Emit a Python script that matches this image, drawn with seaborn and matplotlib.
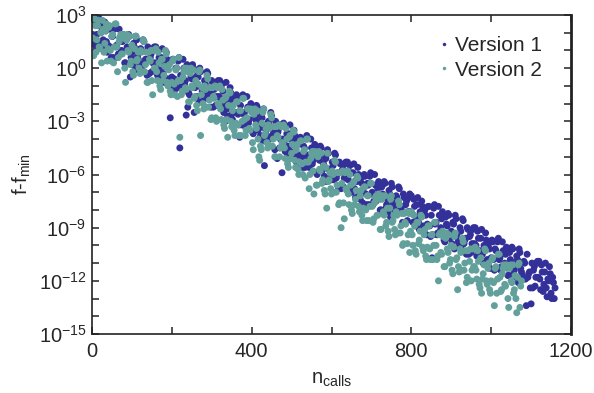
import numpy as np
import pandas as pd
import matplotlib
matplotlib.use("Agg")
import matplotlib.pyplot as plt
import seaborn as sns
from matplotlib.ticker import FixedLocator, NullFormatter

# ---------------- data (log10 of f - f_min) ----------------
# Version 1, first group of calls
v1_calls = list(range(0, 1164, 4))
v1_log = [
    2.8, 1.4, 2.5, 1.9, 2.9, 1.2, 2.3, 1.6, 2.6, 1.5,
    1.3, 2.2, 0.6, 1.8, 2.2, 1.2, 0.6, 2.2, 0.8, 1.5,
    1.7, 0.3, 1.2, 1.9, -0.5, 0.9, 1.4, -0.1, 1.6, 0.5,
    0.1, 1.0, 1.6, 0.3, 0.5, 1.2, -0.3, 0.8, 0.3, 1.2,
    1.2, -0.4, 0.6, -0.1, 1.1, -0.8, 0.1, 0.5, -0.9, -2.8,
    -0.5, 0.5, -1.2, 0.0, 0.4, -4.5, -1.1, 0.5, -0.9, -2.65,
    -2.2, -1.5, -0.5, 0.2, -2.5, -0.9, -0.4, -1.9, -0.2, -1.3,
    -1.7, -0.9, -0.2, -1.6, -1.3, -0.7, -2.2, -1.1, -1.6, -0.7,
    -0.7, -2.3, -1.3, -2.0, -0.8, -2.7, -1.9, -1.4, -2.9, -1.9,
    -2.5, -1.6, -3.2, -2.1, -1.6, -2.6, -3.3, -1.6, -3.1, -2.3,
    -2.2, -3.7, -2.7, -2.1, -3.5, -3.1, -2.7, -4.1, -5.5, -3.5,
    -4.0, -3.2, -2.5, -3.9, -3.6, -3.0, -5.1, -3.4, -4.0, -5.9,
    -3.1, -4.7, -3.7, -4.4, -3.2, -5.1, -4.3, -3.8, -5.3, -4.3,
    -4.9, -4.0, -5.6, -4.5, -4.0, -5.0, -5.6, -4.0, -5.4, -4.7,
    -4.5, -6.0, -5.0, -4.4, -5.8, -5.4, -5.0, -6.4, -4.8, -5.8,
    -6.3, -5.5, -4.8, -6.2, -5.9, -5.3, -6.8, -5.7, -6.2, -5.3,
    -5.3, -6.9, -5.9, -6.6, -5.4, -7.3, -6.4, -6.0, -7.4, -6.5,
    -7.0, -6.1, -7.7, -6.6, -6.1, -7.1, -7.7, -6.0, -7.5, -6.8,
    -6.6, -8.0, -7.1, -6.4, -7.9, -7.4, -6.9, -8.4, -6.7, -7.8,
    -8.2, -7.3, -6.7, -8.0, -7.8, -7.1, -8.7, -7.5, -8.1, -7.1,
    -7.2, -8.7, -7.8, -8.4, -7.3, -9.1, -8.2, -7.8, -9.2, -8.3,
    -8.8, -7.8, -9.5, -10.7, -7.9, -8.8, -9.4, -7.8, -9.2, -8.5,
    -8.3, -9.8, -8.8, -8.2, -9.6, -9.2, -8.7, -10.2, -8.5, -9.6,
    -10.0, -9.2, -8.5, -9.9, -9.6, -9.0, -10.5, -9.4, -9.9, -9.0,
    -9.0, -10.6, -9.6, -10.3, -9.1, -11.0, -10.1, -9.7, -11.1, -10.2,
    -10.7, -9.8, -11.4, -10.3, -9.8, -10.8, -11.4, -9.8, -11.2, -10.5,
    -10.3, -11.7, -10.8, -10.1, -11.6, -11.1, -10.6, -12.1, -10.4, -11.5,
    -11.9, -11.0, -13.4, -11.8, -11.5, -13.3, -12.4, -11.2, -11.8, -10.9,
    -10.9, -12.5, -11.5, -12.2, -11.0, -12.9, -12.0, -11.6, -13.0, -12.1,
    -12.4,
]
# Version 1, second group of calls
v1b_calls = list(range(2, 1160, 4))
v1b_log = [
    1.9, 2.7, 1.2, 2.4, 1.4, 2.0, 2.6, 1.2, 2.1, 0.9,
    2.3, 1.2, 1.8, 0.6, 2.4, 1.3, 0.8, 1.7, 1.0, 1.9,
    0.3, 1.6, 1.1, 1.8, 0.6, 0.2, 1.2, 1.8, 0.7, 0.3,
    1.1, 0.1, 1.5, 0.5, -0.4, 1.1, 0.6, -0.2, 1.1, 0.3,
    0.2, 1.0, -0.5, 0.6, -0.3, 0.2, 0.9, -0.6, 0.3, -1.1,
    0.5, -0.6, 0.0, -1.1, 0.6, -0.4, -1.0, 0.0, -0.7, 0.2,
    -1.4, -0.1, -0.6, 0.0, -1.1, -1.6, -0.5, 0.0, -1.1, -1.5,
    -0.7, -1.7, -0.3, -1.4, -2.2, -0.8, -1.2, -2.1, -0.8, -1.6,
    -1.7, -0.9, -2.5, -3.0, -2.3, -1.7, -1.1, -2.6, -1.7, -3.1,
    -1.5, -2.6, -3.9, -3.2, -1.5, -2.5, -3.1, -2.2, -2.9, -2.0,
    -3.6, -2.3, -2.9, -2.2, -3.4, -3.8, -2.8, -2.3, -3.4, -3.8,
    -3.0, -4.0, -2.7, -3.7, -4.6, -3.1, -3.6, -4.5, -3.2, -4.0,
    -4.1, -3.3, -4.9, -3.7, -4.7, -4.1, -3.5, -5.0, -4.1, -5.5,
    -3.9, -5.0, -4.4, -5.6, -3.8, -4.9, -5.4, -4.5, -5.2, -4.3,
    -5.9, -4.6, -5.2, -4.5, -5.7, -6.1, -5.1, -4.6, -5.7, -6.1,
    -5.3, -6.3, -4.9, -6.0, -6.8, -5.4, -5.8, -6.7, -5.4, -6.2,
    -6.3, -5.5, -7.0, -5.9, -6.8, -6.3, -5.6, -7.1, -6.2, -7.6,
    -6.0, -7.1, -6.5, -7.7, -5.9, -7.0, -7.5, -6.6, -7.3, -6.4,
    -8.0, -6.7, -7.2, -6.5, -7.7, -8.1, -7.1, -6.5, -7.6, -8.0,
    -7.2, -8.2, -6.8, -7.9, -8.7, -7.3, -7.7, -8.6, -7.3, -8.1,
    -8.2, -7.4, -8.9, -7.7, -8.7, -8.1, -7.5, -8.9, -8.0, -9.4,
    -7.8, -8.9, -8.3, -9.4, -7.7, -8.7, -9.3, -8.3, -9.0, -8.1,
    -9.7, -8.4, -8.9, -8.3, -9.4, -9.9, -8.8, -8.3, -9.4, -9.8,
    -9.0, -10.0, -8.6, -9.7, -10.5, -9.1, -9.5, -10.4, -9.1, -9.9,
    -10.0, -9.2, -10.7, -9.6, -10.5, -10.0, -9.3, -10.8, -9.9, -11.3,
    -9.7, -10.8, -10.2, -11.3, -9.6, -10.7, -11.2, -10.3, -11.0, -10.1,
    -11.7, -10.4, -10.9, -10.2, -11.4, -11.8, -10.8, -10.2, -11.3, -11.7,
    -10.9, -11.9, -10.5, -11.6, -12.4, -11.0, -11.4, -12.3, -11.0, -11.8,
    -11.9, -11.1, -12.6, -11.5, -12.4, -11.9, -11.2, -12.7, -11.8, -13.0,
]

# Version 2, first group of calls
v2_calls = list(range(0, 1080, 4))
v2_log = [
    2.9, 0.7, 2.4, 1.6, 2.7, 1.1, 0.3, 2.2, 1.4, 2.5,
    1.1, 2.4, 0.4, 1.9, 1.2, 2.5, -0.2, 1.5, 1.9, 0.8,
    1.7, -0.8, 1.9, 0.9, 0.2, 1.3, -0.4, 1.8, 0.4, 0.9,
    -0.3, 0.9, 1.6, -0.2, 0.9, -0.8, 0.5, 1.0, -1.5, 0.0,
    1.1, -0.7, 0.3, -1.2, 0.5, -0.4, 1.0, -0.8, -0.1, -1.3,
    -0.8, 0.5, -1.5, 0.0, -0.7, -3.9, -1.5, -0.5, 0.0, -1.2,
    -0.2, -1.9, 0.0, -1.1, -1.7, -0.7, -2.4, -0.2, -3.8, -1.1,
    -2.3, -1.2, -0.4, -2.2, -1.1, -2.8, -1.6, -1.0, -3.0, -2.0,
    -1.0, -2.9, -1.8, -3.4, -1.6, -3.9, -1.3, -3.0, -2.4, -3.5,
    -3.1, -1.9, -3.8, -2.4, -3.0, -1.7, -3.8, -2.8, -2.3, -3.5,
    -2.5, -4.6, -2.3, -3.4, -4.0, -5.2, -4.6, -2.5, -3.8, -3.4,
    -4.5, -3.4, -2.6, -4.4, -3.3, -5.0, -3.8, -3.2, -4.5, -4.2,
    -3.2, -5.1, -4.0, -5.6, -3.8, -4.8, -3.5, -5.2, -4.6, -5.7,
    -5.3, -4.1, -6.0, -4.6, -5.3, -4.0, -6.8, -5.1, -4.7, -7.1,
    -4.9, -6.6, -4.7, -5.8, -6.5, -5.5, -7.1, -7.9, -6.4, -5.9,
    -7.1, -6.0, -5.2, -7.0, -5.9, -7.6, -9.0, -5.8, -8.5, -6.8,
    -5.8, -7.7, -6.6, -8.2, -6.4, -7.4, -6.1, -7.8, -7.2, -8.3,
    -7.9, -6.7, -8.6, -7.2, -7.8, -6.5, -8.7, -7.6, -7.2, -8.3,
    -7.4, -9.1, -7.2, -8.3, -8.9, -7.9, -9.5, -7.4, -8.7, -8.3,
    -9.4, -8.3, -7.5, -9.3, -8.2, -9.9, -8.7, -8.1, -9.4, -10.4,
    -8.1, -10.0, -8.9, -10.5, -8.7, -9.7, -8.3, -10.1, -9.4, -10.6,
    -10.1, -8.9, -10.8, -9.4, -10.0, -8.7, -10.8, -12.0, -9.3, -10.5,
    -9.5, -11.2, -9.3, -10.4, -11.0, -10.0, -11.6, -9.5, -10.8, -12.5,
    -11.5, -10.4, -9.6, -11.4, -10.3, -11.8, -12.0, -10.2, -11.4, -11.2,
    -10.1, -11.9, -10.9, -12.4, -12.7, -11.6, -10.2, -12.0, -11.3, -12.5,
    -12.0, -10.7, -13.4, -11.2, -11.9, -10.5, -12.6, -11.6, -11.1, -12.3,
    -11.3, -13.5, -11.1, -12.1, -12.7, -11.7, -13.8, -11.1, -13.5, -12.0,
]
# Version 2, second group of calls
v2b_calls = list(range(2, 1076, 4))
v2b_log = [
    1.7, 2.8, 0.9, 2.4, 1.2, 2.0, 2.7, 0.9, 2.1, 0.4,
    2.3, 1.0, 1.8, 0.3, 2.5, 1.2, 0.6, 1.7, 0.8, 1.9,
    0.0, 1.6, 1.0, 1.8, 0.4, -0.2, 1.1, 1.8, 0.5, 0.0,
    1.0, -0.2, 1.5, 0.2, -0.8, 0.9, 0.4, -0.7, 1.0, 0.0,
    -0.2, 0.9, -1.0, 0.5, -0.7, 0.1, 0.8, -1.0, 0.2, -1.5,
    0.4, -0.9, -0.1, -1.6, 0.6, -0.7, -1.3, -0.2, -1.1, 0.0,
    -1.9, -0.3, -1.0, -0.1, -1.6, -2.1, -0.9, -0.1, -1.5, -2.0,
    -1.0, -2.2, -0.6, -1.8, -2.9, -1.1, -1.7, -2.8, -1.1, -2.1,
    -2.3, -1.2, -3.2, -1.7, -2.9, -2.1, -1.4, -3.3, -2.1, -3.8,
    -1.9, -3.2, -2.4, -3.8, -1.7, -2.9, -3.5, -2.3, -3.4, -2.3,
    -4.2, -2.6, -3.2, -2.4, -5.0, -4.4, -3.1, -2.3, -3.7, -4.2,
    -3.2, -4.4, -2.8, -4.0, -5.0, -3.3, -3.9, -5.0, -3.3, -4.3,
    -4.5, -3.4, -5.4, -3.9, -5.1, -4.3, -3.6, -5.6, -4.3, -6.0,
    -4.1, -5.4, -4.7, -6.2, -4.0, -5.3, -6.0, -4.8, -5.8, -4.7,
    -6.6, -5.0, -5.7, -4.8, -6.3, -6.9, -5.6, -4.8, -6.3, -6.8,
    -5.8, -7.0, -5.3, -6.6, -7.7, -5.9, -6.5, -7.6, -5.9, -6.9,
    -7.1, -6.0, -8.0, -6.5, -7.7, -6.9, -6.2, -8.1, -6.9, -8.6,
    -6.7, -8.0, -7.2, -8.6, -6.5, -7.8, -8.5, -7.3, -8.3, -7.1,
    -9.1, -7.4, -8.1, -7.2, -8.7, -9.2, -7.9, -7.2, -8.6, -9.1,
    -8.1, -9.3, -7.7, -8.9, -10.0, -8.2, -8.8, -9.9, -8.2, -9.2,
    -9.4, -8.3, -10.3, -8.7, -9.9, -9.2, -8.4, -10.3, -9.1, -10.8,
    -8.9, -10.2, -9.4, -10.8, -8.7, -10.0, -10.6, -9.4, -10.4, -9.2,
    -11.2, -9.6, -10.2, -9.4, -10.8, -11.4, -10.1, -9.3, -10.7, -11.2,
    -10.2, -11.4, -9.8, -11.0, -12.1, -10.3, -10.9, -12.0, -10.2, -11.2,
    -11.4, -10.3, -12.2, -10.7, -11.9, -11.1, -10.3, -12.2, -11.0, -12.7,
    -10.8, -12.1, -11.3, -12.7, -10.5, -11.8, -12.5, -11.3, -12.2, -11.1,
    -13.0, -11.3, -12.0, -11.1, -12.5, -13.0, -11.8, -11.0, -12.3,
]

series_names = ["Version 1", "Version 2"]
series_colors = ["#33309a", "#61a09b"]
x_ticks = [0, 400, 800, 1200]
x_minor_ticks = [200, 600, 1000]
y_tick_exps = [3, 0, -3, -6, -9, -12, -15]
y_tick_labels = [r"$10^{%d}$" % e for e in y_tick_exps]

# ---------------- build table ----------------
df = pd.concat([
    pd.DataFrame({"n_calls": v1_calls + v1b_calls,
                  "f": np.power(10.0, v1_log + v1b_log), "version": series_names[0]}),
    pd.DataFrame({"n_calls": v2_calls + v2b_calls,
                  "f": np.power(10.0, v2_log + v2b_log), "version": series_names[1]}),
], ignore_index=True)

# ---------------- style ----------------
sns.set_style("ticks")
plt.rcParams["font.family"] = ["Liberation Sans", "DejaVu Sans"]
plt.rcParams["mathtext.fontset"] = "custom"
plt.rcParams["mathtext.rm"] = "Liberation Sans"
plt.rcParams["mathtext.it"] = "Liberation Sans"
plt.rcParams["mathtext.default"] = "regular"

fig = plt.figure(figsize=(5.94, 3.93), dpi=100)
ax = fig.add_axes([92 / 594, 1 - 334 / 393, (571 - 92) / 594, (334 - 15) / 393])

sns.scatterplot(
    data=df, x="n_calls", y="f", hue="version",
    palette=dict(zip(series_names, series_colors)),
    s=25, linewidth=0, alpha=1.0, ax=ax, legend=True,
)

ax.set_yscale("log")
ax.set_xlim(0, 1200)
ax.set_ylim(1e-15, 1e3)

ax.set_xticks(x_ticks)
ax.set_xticklabels([str(t) for t in x_ticks])
ax.xaxis.set_minor_locator(FixedLocator(x_minor_ticks))
ax.xaxis.set_minor_formatter(NullFormatter())

ax.yaxis.set_major_locator(FixedLocator([10.0 ** e for e in y_tick_exps]))
ax.set_yticklabels(y_tick_labels)
ax.yaxis.set_minor_locator(FixedLocator([10.0 ** e for e in range(-15, 4)]))
ax.yaxis.set_minor_formatter(NullFormatter())

ax.tick_params(which="both", direction="in", top=True, right=True,
               length=5, width=1.1, color="#222222", labelsize=14.5, pad=4)
ax.tick_params(axis="x", which="major", pad=6)

for side in ["left", "bottom", "top"]:
    ax.spines[side].set_linewidth(1.2)
    ax.spines[side].set_color("#222222")
ax.spines["right"].set_linewidth(2.0)
ax.spines["right"].set_color("#222222")

ax.set_xlabel(r"n$_{\mathrm{calls}}$", fontsize=14.5, labelpad=6)
ax.set_ylabel(r"f-f$_{\mathrm{min}}$", fontsize=14.5, labelpad=4)

handles, labels = ax.get_legend_handles_labels()
leg = ax.legend(handles, labels, loc="upper right", frameon=False, fontsize=15,
                markerscale=0.5, handletextpad=0.05, handlelength=1.0,
                labelspacing=0.25, borderaxespad=0.4,
                bbox_to_anchor=(0.975, 0.985))

fig.savefig("out.png", dpi=100)
